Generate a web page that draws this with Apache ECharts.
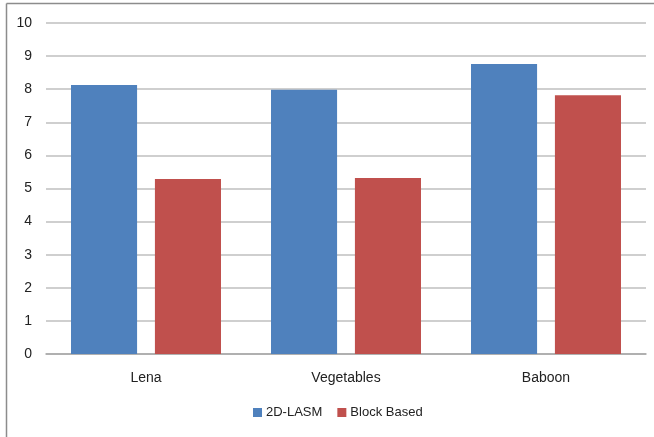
<!DOCTYPE html>
<html>
<head>
<meta charset="utf-8">
<script src="https://cdn.jsdelivr.net/npm/echarts@6/dist/echarts.min.js"></script>
<style>
html,body{margin:0;padding:0;background:#fff;}
#chart{width:654px;height:437px;}
</style>
</head>
<body>
<div id="chart"></div>
<script>
// Image sets compared and the score of each method
const categories = ['Lena', 'Vegetables', 'Baboon'];
const lasm = [8.13, 7.98, 8.76];
const blockBased = [5.29, 5.32, 7.82];
const yTicks = [0, 1, 2, 3, 4, 5, 6, 7, 8, 9, 10];

const font = 'Liberation Sans, sans-serif';
const chart = echarts.init(document.getElementById('chart'), null, {renderer: 'canvas'});

chart.setOption({
  animation: false,
  backgroundColor: '#ffffff',
  graphic: [
    {type: 'line', shape: {x1: 6.5, y1: 3.5, x2: 654, y2: 3.5}, style: {stroke: '#8c8c8c', lineWidth: 1.5}, silent: true},
    {type: 'line', shape: {x1: 6.5, y1: 3.5, x2: 6.5, y2: 437}, style: {stroke: '#8c8c8c', lineWidth: 1.5}, silent: true}
  ],
  grid: {left: 46, right: 8, top: 23, bottom: 83, containLabel: false},
  legend: {
    data: ['2D-LASM', 'Block Based'],
    top: 406,
    left: 253,
    padding: 0,
    itemWidth: 9,
    itemHeight: 9,
    itemGap: 15,
    icon: 'rect',
    textStyle: {fontFamily: font, fontSize: 13, color: '#222', padding: [0, 0, 0, -1]}
  },
  xAxis: {
    type: 'category',
    data: categories,
    axisLine: {show: true, lineStyle: {color: '#a6a6a6', width: 1.5}},
    axisTick: {show: false},
    axisLabel: {fontFamily: font, fontSize: 14, color: '#222', margin: 17}
  },
  yAxis: {
    type: 'value',
    min: yTicks[0],
    max: yTicks[yTicks.length - 1],
    interval: 1,
    axisLine: {show: false},
    axisTick: {show: false},
    axisLabel: {fontFamily: font, fontSize: 14, color: '#222', margin: 14},
    splitLine: {lineStyle: {color: '#bfbfbf', width: 1.5}}
  },
  series: [
    {
      name: '2D-LASM',
      type: 'bar',
      data: lasm,
      barGap: '27%',
      barCategoryGap: '25%',
      itemStyle: {color: '#4f81bd'}
    },
    {
      name: 'Block Based',
      type: 'bar',
      data: blockBased,
      itemStyle: {color: '#c0504d'}
    }
  ]
});
</script>
</body>
</html>
